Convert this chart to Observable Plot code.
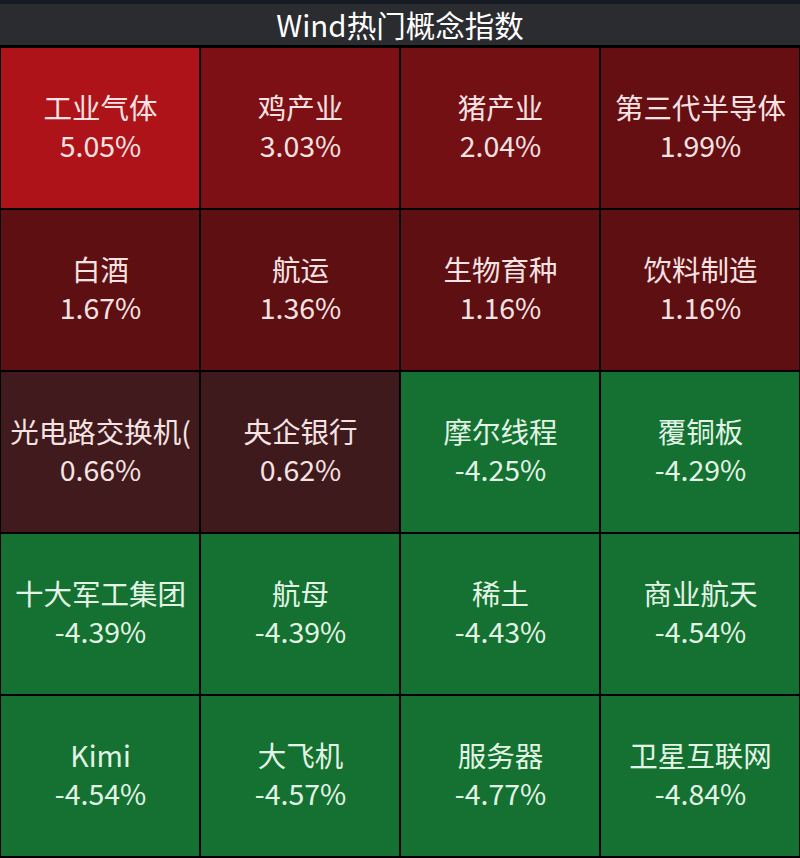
<!DOCTYPE html>
<html>
<head>
<meta charset="utf-8">
<script src="https://cdn.jsdelivr.net/npm/d3@7"></script>
<script src="https://cdn.jsdelivr.net/npm/@observablehq/plot@0.6"></script>
<style>
  html, body { margin: 0; padding: 0; background: #000; }
  body { width: 800px; height: 858px; overflow: hidden; font-family: "Noto Sans CJK SC", "Noto Sans", sans-serif; }
  #title {
    box-sizing: border-box;
    width: 800px; height: 46px;
    border-top: 4px solid #161a22;
    background: #2b2c2f;
    color: #ffffff;
    font-size: 29.5px;
    line-height: 40px;
    text-align: center;
    border-bottom: 1px solid #000;
  }
  #chart svg { display: block; }
</style>
</head>
<body>
<div id="title">Wind热门概念指数</div>
<div id="chart"></div>
<script>
const names = [
  "工业气体", "鸡产业", "猪产业", "第三代半导体",
  "白酒", "航运", "生物育种", "饮料制造",
  "光电路交换机(", "央企银行", "摩尔线程", "覆铜板",
  "十大军工集团", "航母", "稀土", "商业航天",
  "Kimi", "大飞机", "服务器", "卫星互联网"
];
const values = [
  5.05, 3.03, 2.04, 1.99,
  1.67, 1.36, 1.16, 1.16,
  0.66, 0.62, -4.25, -4.29,
  -4.39, -4.39, -4.43, -4.54,
  -4.54, -4.57, -4.77, -4.84
];
const nCols = 4;

const data = names.map((name, i) => ({
  name,
  value: values[i],
  col: i % nCols,
  row: Math.floor(i / nCols),
  label: values[i].toFixed(2) + "%"
}));

const rows = d3.range(Math.ceil(names.length / nCols));
const cols = d3.range(nCols);

const plot = Plot.plot({
  width: 800,
  height: 812,
  margin: 0,
  style: { background: "#000", fontFamily: "'Noto Sans CJK SC', 'Noto Sans', sans-serif" },
  x: { type: "band", domain: cols, padding: 0, axis: null },
  y: { type: "band", domain: rows, padding: 0, axis: null },
  color: {
    type: "linear",
    domain: [-5, -4, 0, 0.64, 1.16, 1.67, 1.99, 2.04, 3.03, 5.05],
    range: ["#157131", "#157131", "#3f1a1c", "#3f1a1c", "#5e0f12", "#5e0f12", "#660f13", "#731014", "#7d1015", "#ae1319"],
    clamp: true
  },
  marks: [
    Plot.cell(data, { x: "col", y: "row", fill: "value", inset: 1 }),
    Plot.text(data, {
      x: "col", y: "row", text: "name", dy: -19,
      fontSize: 28.5,
      fill: d => d.value >= 0 ? "#f7e3e3" : "#e2f4e6"
    }),
    Plot.text(data, {
      x: "col", y: "row", text: "label", dy: 19,
      fontSize: 28.5,
      fill: d => d.value >= 0 ? "#f7e3e3" : "#e2f4e6"
    })
  ]
});
document.getElementById("chart").appendChild(plot);
</script>
</body>
</html>
